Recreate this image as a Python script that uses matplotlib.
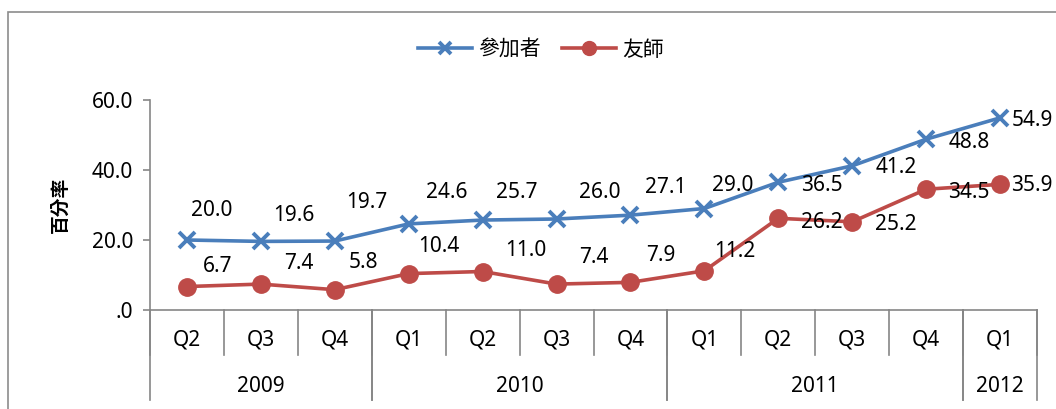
import matplotlib
matplotlib.use('Agg')
import matplotlib.pyplot as plt
from matplotlib.patches import Rectangle

plt.rcParams['font.family'] = ['Noto Sans', 'Noto Sans CJK TC', 'DejaVu Sans']

# Data
quarters = ['Q2', 'Q3', 'Q4', 'Q1', 'Q2', 'Q3', 'Q4', 'Q1', 'Q2', 'Q3', 'Q4', 'Q1']
years = ['2009', '2010', '2011', '2012']
year_spans = [(0, 2), (3, 6), (7, 10), (11, 11)]  # first/last quarter index of each year
participants = [20.0, 19.6, 19.7, 24.6, 25.7, 26.0, 27.1, 29.0, 36.5, 41.2, 48.8, 54.9]
mentors = [6.7, 7.4, 5.8, 10.4, 11.0, 7.4, 7.9, 11.2, 26.2, 25.2, 34.5, 35.9]
series_names = ['參加者', '友師']
ytick_values = [0, 20, 40, 60]
ytick_labels = ['.0', '20.0', '40.0', '60.0']

# label offsets in pixels (layout only)
off_participants = [(25, 29), (33, 26), (32, 39), (38, 31), (34, 28), (43, 26), (35, 28),
                    (28, 23), (44, -3), (44, -2), (43, -3), (32, -3)]
off_mentors = [(31, 20), (38, 21), (29, 27), (30, 27), (43, 21), (37, 27), (30, 27),
               (30, 19), (44, -4), (44, -3), (43, -3), (32, -1)]

blue = '#4A7EBB'
red = '#BE4B48'
gray = '#868686'
fs = 15

fig = plt.figure(figsize=(10.56, 4.09), dpi=100)
ax = fig.add_axes([150 / 1056, 1 - 310 / 409, 887 / 1056, 210 / 409])

# outer chart border (right and bottom edges fall outside the picture)
fig.patches.append(Rectangle((8 / 1056, -0.2), 1.2, 1 - 12 / 409 + 0.2,
                             transform=fig.transFigure, fill=False,
                             edgecolor='#8C8C8C', linewidth=1.2))

x = list(range(len(quarters)))
ax.plot(x, participants, color=blue, linewidth=2.6, marker='x', markersize=11,
        markeredgewidth=2.8, label=series_names[0], clip_on=False, zorder=3)
ax.plot(x, mentors, color=red, linewidth=2.6, marker='o', markersize=12.5,
        label=series_names[1], clip_on=False, zorder=3)

for xi, v, (dx, dy) in zip(x, participants, off_participants):
    ax.annotate(f'{v:.1f}', (xi, v), xytext=(dx, dy), textcoords='offset pixels',
                ha='center', va='center', fontsize=fs, annotation_clip=False)
for xi, v, (dx, dy) in zip(x, mentors, off_mentors):
    ax.annotate(f'{v:.1f}', (xi, v), xytext=(dx, dy), textcoords='offset pixels',
                ha='center', va='center', fontsize=fs, annotation_clip=False)

ax.set_xlim(-0.5, len(quarters) - 0.5)
ax.set_ylim(0, 60)
ax.set_yticks(ytick_values)
ax.set_yticklabels(ytick_labels)
ax.tick_params(axis='y', length=5, width=1.2, color=gray, pad=7, labelsize=fs)

ax.set_xticks(x)
ax.set_xticklabels(quarters)
ax.tick_params(axis='x', length=0, pad=14, labelsize=fs)

for side in ['top', 'right']:
    ax.spines[side].set_visible(False)
for side in ['left', 'bottom']:
    ax.spines[side].set_color(gray)
    ax.spines[side].set_linewidth(1.2)

# category separators: short for quarters, long for years
xt = ax.get_xaxis_transform()
ax_h = 210.0
for b in range(len(quarters) + 1):
    ax.plot([b - 0.5, b - 0.5], [0, -45 / ax_h], transform=xt, color=gray,
            linewidth=1.2, clip_on=False)
for (s, e) in year_spans:
    for b in (s - 0.5, e + 0.5):
        ax.plot([b, b], [0, -90 / ax_h], transform=xt, color=gray,
                linewidth=1.2, clip_on=False)
for name, (s, e) in zip(years, year_spans):
    ax.text((s + e) / 2, -77 / ax_h, name, transform=xt, ha='center',
            va='center', fontsize=fs)

ax.set_ylabel('百分率', fontsize=13.5, fontweight='bold')
ax.yaxis.set_label_coords(-80 / 887, 0.5)

fig.legend(loc='center', bbox_to_anchor=(541 / 1056, 1 - 50 / 409), ncol=2,
           frameon=False, fontsize=fs, handlelength=2.6, handletextpad=0.3,
           columnspacing=1.0, markerscale=0.8)

fig.savefig('out.png', dpi=100)
